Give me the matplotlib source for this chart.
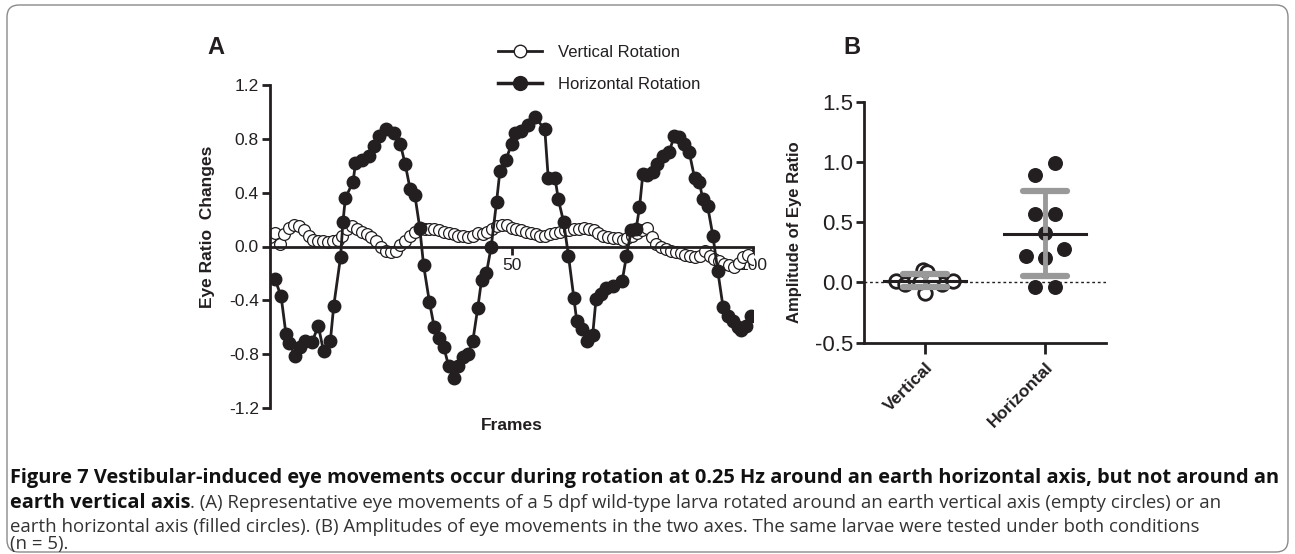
import numpy as np
import matplotlib
matplotlib.use("Agg")
import matplotlib.pyplot as plt
from matplotlib.patches import FancyBboxPatch
from matplotlib.lines import Line2D

# ---- panel A : eye ratio changes over frames ----
horiz_frames = [1.0, 2.3, 3.3, 4.0, 5.2, 6.2, 7.3, 8.7, 10.0, 11.1,
                12.5, 13.2, 14.6, 15.1, 15.6, 17.2, 17.7, 19.1, 20.5, 21.5,
                22.6, 24.0, 25.7, 27.0, 28.0, 29.0, 30.0, 31.0, 31.8, 33.0,
                34.0, 35.0, 36.0, 37.0, 38.0, 39.0, 40.0, 41.0, 42.0, 43.0,
                43.8, 44.8, 45.8, 46.9, 47.6, 48.8, 50.0, 50.7, 52.0, 53.5,
                54.9, 56.9, 57.6, 59.0, 59.7, 60.8, 61.8, 62.9, 63.5, 64.6,
                65.7, 66.8, 67.5, 68.5, 69.6, 71.0, 72.9, 73.8, 74.8, 75.8,
                76.5, 77.2, 78.1, 79.2, 80.2, 81.3, 82.6, 83.7, 84.7, 85.8,
                86.8, 87.9, 88.9, 89.6, 90.6, 91.7, 92.7, 93.8, 94.8, 95.8,
                96.9, 97.6, 98.6, 99.6]
horiz_ratio = [-0.24, -0.37, -0.65, -0.72, -0.81, -0.75, -0.70, -0.71, -0.59, -0.78,
               -0.70, -0.44, -0.08, 0.18, 0.36, 0.48, 0.62, 0.64, 0.67, 0.75,
               0.82, 0.87, 0.84, 0.76, 0.61, 0.43, 0.38, 0.14, -0.14, -0.41,
               -0.60, -0.68, -0.75, -0.89, -0.98, -0.89, -0.82, -0.80, -0.70, -0.46,
               -0.25, -0.20, 0.00, 0.33, 0.56, 0.64, 0.76, 0.84, 0.86, 0.90,
               0.96, 0.87, 0.51, 0.51, 0.35, 0.18, -0.07, -0.38, -0.55, -0.61,
               -0.70, -0.66, -0.39, -0.35, -0.31, -0.29, -0.26, -0.07, 0.12, 0.13,
               0.29, 0.54, 0.53, 0.55, 0.61, 0.67, 0.70, 0.82, 0.81, 0.76,
               0.70, 0.51, 0.48, 0.35, 0.30, 0.08, -0.18, -0.45, -0.52, -0.55,
               -0.60, -0.62, -0.59, -0.52]

vert_frames = list(range(0, 101))
vert_ratio = [0.07, 0.10, 0.02, 0.09, 0.14, 0.16, 0.15, 0.12, 0.08, 0.05,
              0.04, 0.04, 0.03, 0.04, 0.05, 0.08, 0.13, 0.15, 0.13, 0.11,
              0.09, 0.07, 0.04, 0.00, -0.03, -0.04, -0.03, 0.01, 0.04, 0.08,
              0.11, 0.13, 0.13, 0.13, 0.13, 0.12, 0.11, 0.10, 0.09, 0.08,
              0.08, 0.07, 0.08, 0.10, 0.09, 0.11, 0.13, 0.15, 0.16, 0.16,
              0.14, 0.13, 0.12, 0.11, 0.10, 0.09, 0.08, 0.08, 0.09, 0.10,
              0.11, 0.12, 0.12, 0.13, 0.13, 0.14, 0.13, 0.12, 0.10, 0.08,
              0.07, 0.06, 0.06, 0.05, 0.06, 0.08, 0.10, 0.12, 0.14, 0.07,
              0.02, 0.00, -0.02, -0.03, -0.04, -0.05, -0.06, -0.07, -0.08, -0.07,
              -0.03, -0.07, -0.09, -0.11, -0.13, -0.14, -0.15, -0.12, -0.08, -0.06,
              -0.09]

# ---- panel B : amplitudes ----
groups = ["Vertical", "Horizontal"]
amp_vertical = [0.01, -0.01, 0.10, 0.09, -0.09, -0.01, 0.01, 0.02, 0.03, 0.00]
amp_horizontal = [0.99, 0.89, 0.57, 0.57, 0.41, 0.28, 0.22, 0.20, -0.035, -0.035]

# horizontal spread of the scatter points (layout only)
vert_spread = [-0.24, -0.17, -0.02, 0.02, 0.0, 0.14, 0.23, -0.08, 0.07, -0.04]
horiz_spread = [0.08, -0.08, -0.08, 0.08, 0.0, 0.16, -0.16, 0.0, -0.08, 0.08]

INK = "#231f20"
plt.rcParams["font.family"] = ["Liberation Sans", "DejaVu Sans"]

W, H = 1295, 554
fig = plt.figure(figsize=(W / 100, H / 100), dpi=100)


def px_box(x0, x1, ytop, ybot):
    return [x0 / W, 1 - ybot / H, (x1 - x0) / W, (ybot - ytop) / H]


# ---------------- panel A ----------------
ax = fig.add_axes(px_box(270, 753, 85, 408))
ax.plot(vert_frames, vert_ratio, "-o", color=INK, lw=1.3, ms=8.5,
        mfc="white", mec=INK, mew=0.9, zorder=2)
ax.plot(horiz_frames, horiz_ratio, "-o", color=INK, lw=2.0, ms=9,
        mfc=INK, mec=INK, zorder=3)
ax.set_xlim(0, 100)
ax.set_ylim(-1.2, 1.2)
ax.spines["top"].set_visible(False)
ax.spines["right"].set_visible(False)
ax.spines["bottom"].set_position(("data", 0))
ax.spines["left"].set_linewidth(2)
ax.spines["bottom"].set_linewidth(2)
ax.spines["left"].set_color(INK)
ax.spines["bottom"].set_color(INK)
ax.set_yticks([-1.2, -0.8, -0.4, 0.0, 0.4, 0.8, 1.2])
ax.set_yticklabels(["-1.2", "-0.8", "-0.4", "0.0", "0.4", "0.8", "1.2"])
ax.set_xticks([50, 100])
ax.tick_params(axis="both", direction="out", length=6, width=2, colors=INK,
               labelsize=12.5, pad=2)
ax.set_ylabel("Eye Ratio  Changes", fontsize=12.5, fontweight="bold", color=INK)
ax.yaxis.set_label_coords(-0.113, 0.56)
ax.text(0.5, -0.03, "Frames", transform=ax.transAxes, ha="center", va="top",
        fontsize=12.5, fontweight="bold", color=INK)

handles = [
    Line2D([], [], color=INK, lw=2, marker="o", ms=9, mfc="white", mec=INK, mew=1),
    Line2D([], [], color=INK, lw=2.5, marker="o", ms=10, mfc=INK, mec=INK),
]
fig.legend(handles, ["Vertical Rotation", "Horizontal Rotation"],
           loc="upper left", bbox_to_anchor=(490 / W, 1 - 37 / H),
           frameon=False, fontsize=12, handlelength=2.6, handletextpad=1.0,
           labelspacing=1.0, borderpad=0, labelcolor=INK)

fig.text(207 / W, 1 - 47 / H, "A", fontsize=17, fontweight="bold",
         color=INK, va="center")

# ---------------- panel B ----------------
bx = fig.add_axes(px_box(864, 1106, 101.7, 342.7))
pos = np.arange(len(groups))
bx.scatter(pos[0] + np.array(vert_spread), amp_vertical, s=95,
           facecolor="white", edgecolor=INK, linewidth=2, zorder=3)
bx.scatter(pos[1] + np.array(horiz_spread), amp_horizontal, s=95,
           facecolor=INK, edgecolor=INK, linewidth=1, zorder=3)
for p, vals in zip(pos, [amp_vertical, amp_horizontal]):
    m = np.mean(vals)
    sd = np.std(vals, ddof=1)
    bx.plot([p, p], [m - sd, m + sd], color="#999999", lw=3.5, zorder=4,
            solid_capstyle="butt")
    for yv in (m - sd, m + sd):
        bx.plot([p - 0.18, p + 0.18], [yv, yv], color="#999999", lw=4.5,
                zorder=4, solid_capstyle="round")
    bx.plot([p - 0.34, p + 0.34], [m, m], color=INK, lw=2.2, zorder=5)
bx.axhline(0, color=INK, lw=1, ls=(0, (2, 2)), zorder=1)
bx.set_xlim(-0.508, 1.508)
bx.set_ylim(-0.5, 1.5)
bx.set_yticks([-0.5, 0.0, 0.5, 1.0, 1.5])
bx.set_yticklabels(["-0.5", "0.0", "0.5", "1.0", "1.5"])
bx.set_xticks(pos)
bx.set_xticklabels(groups, rotation=45, ha="right", rotation_mode="anchor",
                   fontsize=12.5, fontweight="bold")
bx.spines["top"].set_visible(False)
bx.spines["right"].set_visible(False)
for s in ("left", "bottom"):
    bx.spines[s].set_linewidth(2)
    bx.spines[s].set_color(INK)
bx.tick_params(axis="y", direction="out", length=6, width=2, colors=INK,
               labelsize=16, pad=2)
bx.tick_params(axis="x", direction="out", length=8, width=2, colors=INK, pad=4)
bx.set_ylabel("Amplitude of Eye Ratio", fontsize=12, fontweight="bold", color=INK)
bx.yaxis.set_label_coords(-0.255, 0.46)
fig.text(843 / W, 1 - 47 / H, "B", fontsize=17, fontweight="bold",
         color=INK, va="center")

# ---------------- caption ----------------
fig.canvas.draw()
rend = fig.canvas.get_renderer()
cap_kw = dict(family=["Open Sans", "DejaVu Sans"], va="baseline")


def fit(t, target):
    for _ in range(4):
        w = t.get_window_extent(rend).width
        t.set_fontsize(t.get_fontsize() * target / w)


line1 = fig.text(10 / W, 1 - 483 / H,
                 "Figure 7 Vestibular-induced eye movements occur during rotation at 0.25 Hz "
                 "around an earth horizontal axis, but not around an",
                 fontsize=13, fontweight="bold", color="#111111", **cap_kw)
fit(line1, 1270)
b2 = fig.text(10 / W, 1 - 508 / H, "earth vertical axis", fontsize=line1.get_fontsize(),
              fontweight="bold", color="#111111", **cap_kw)
line3 = fig.text(10 / W, 1 - 532 / H,
                 "earth horizontal axis (filled circles). (B) Amplitudes of eye movements in the "
                 "two axes. The same larvae were tested under both conditions",
                 fontsize=12, color="#333333", **cap_kw)
fit(line3, 1188)
fs = line3.get_fontsize()
bb = b2.get_window_extent(rend)
fig.text(bb.x1 / W, 1 - 508 / H,
         ". (A) Representative eye movements of a 5 dpf wild-type larva rotated around an "
         "earth vertical axis (empty circles) or an",
         fontsize=fs, color="#333333", **cap_kw)
fig.text(10 / W, 1 - 549 / H, "(n = 5).", fontsize=fs, color="#333333", **cap_kw)

frame = FancyBboxPatch((7 / 100, 2 / 100), (1281) / 100, (547) / 100,
                       boxstyle="round,pad=0,rounding_size=0.12",
                       transform=fig.dpi_scale_trans, fill=False,
                       edgecolor="#8a8a8a", lw=1)
fig.patches.append(frame)

fig.savefig("out.png", dpi=100)
